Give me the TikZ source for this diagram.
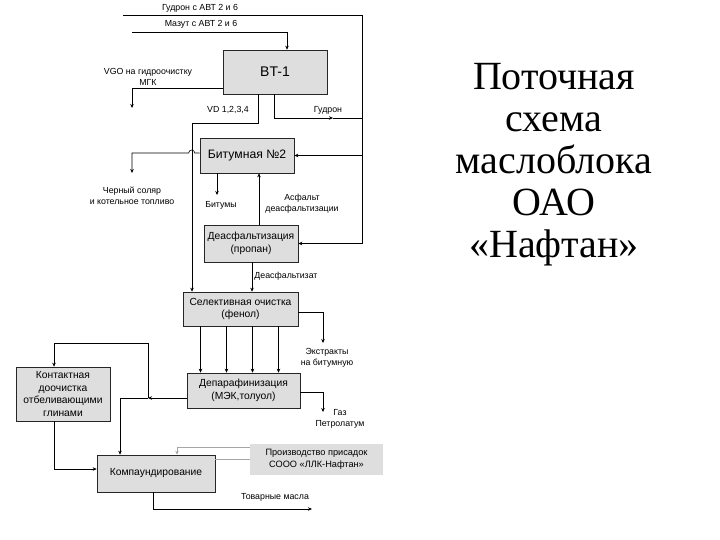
\documentclass[tikz,border=0pt]{standalone}
\usepackage{fontspec}
\setmainfont{Liberation Serif}
\newfontfamily\arialfont{Liberation Sans}
\usetikzlibrary{arrows.meta}

\tikzset{
  unit/.style={draw=black!85, fill=black!13, line width=0.6pt, inner sep=1pt,
    align=center, font=\arialfont\fontsize{10.3}{12.5}\selectfont},
  flow/.style={-{Stealth[length=4pt,width=3.5pt]}, line width=0.6pt},
  feed/.style={draw=black!35, line width=0.6pt},
  lbl/.style={inner sep=0pt, align=center, font=\arialfont\fontsize{8.8}{11}\selectfont}
}

\begin{document}
\begin{tikzpicture}[x=1pt,y=-1pt]
  \useasboundingbox (0,0) rectangle (720,540);

  % units
  \node[unit, minimum width=104pt, minimum height=44pt,
        font=\arialfont\fontsize{14}{16}\selectfont] (bt) at (275,72) {BT-1};
  \node[unit, minimum width=94pt, minimum height=35pt,
        font=\arialfont\fontsize{12.2}{14}\selectfont] (bit) at (247,155.5) {Битумная №2};
  \node[unit, minimum width=94pt, minimum height=37pt] (deas) at (251,243.5)
    {Деасфальтизация\\(пропан)};
  \node[unit, minimum width=115pt, minimum height=34pt] (sel) at (240.5,309)
    {Селективная очистка\\(фенол)};
  \node[unit, minimum width=113pt, minimum height=35pt] (dep) at (243.5,390.5)
    {Депарафинизация\\(МЭК,толуол)};
  \node[unit, minimum width=94pt, minimum height=54pt,
        font=\arialfont\fontsize{10.3}{12.4}\selectfont] (kont) at (63,394)
    {Контактная\\доочистка\\отбеливающими\\глинами};
  \node[unit, minimum width=118pt, minimum height=37pt] (komp) at (156,473.5)
    {Компаундирование};
  \node[unit, draw=none, minimum width=133pt, minimum height=31pt,
        font=\arialfont\fontsize{9.2}{11.8}\selectfont] (pris) at (316.5,459.5)
    {Производство присадок\\СООО «ЛЛК-Нафтан»};

  % free ends
  \coordinate (gud0) at (123,15);
  \coordinate (rt) at (362,15);
  \coordinate (maz0) at (132,32);
  \coordinate (vgoend) at (132,108);
  \coordinate (vd) at (192,123);
  \coordinate (gudarr) at (333,118);
  \coordinate (soend) at (132,173);
  \coordinate (bitend) at (217,195);
  \coordinate (extend) at (323,343);
  \coordinate (gasend) at (323,412);
  \coordinate (depj) at (148,398);
  \coordinate (kc) at (148,343);
  \coordinate (tovend) at (312,509);

  % labels
  \node[lbl] (lgud) at (200,8) {Гудрон с АВТ 2 и 6};
  \node[lbl] (lmaz) at (201,24) {Мазут с АВТ 2 и 6};
  \node[lbl] (lvgo) at (148,77) {VGO на гидроочистку\\МГК};
  \node[lbl] (lvd) at (228,110) {VD 1,2,3,4};
  \node[lbl] (lgudout) at (328,110) {Гудрон};
  \node[lbl] (lsol) at (132,196) {Черный соляр\\и котельное топливо};
  \node[lbl] (lbitum) at (221,205) {Битумы};
  \node[lbl] (lasf) at (302,203.5) {Асфальт\\деасфальтизации};
  \node[lbl] (ldeas) at (286,276) {Деасфальтизат};
  \node[lbl] (lext) at (327,358) {Экстракты\\на битумную};
  \node[lbl] (lgas) at (340,419) {Газ\\Петролатум};
  \node[lbl] (ltov) at (275,497) {Товарные масла};

  % title
  \node[inner sep=0pt, align=center, font=\fontsize{40}{42}\selectfont] (title)
    at (554,165) {Поточная\\схема\\маслоблока\\ОАО\\«Нафтан»};

  % connectors
  \draw[line width=0.6pt] (gud0) -- (rt) -- (rt |- deas.east);
  \draw[flow] (rt |- bit.east) -- (bit.east);
  \draw[flow] (rt |- deas.east) -- (deas.east);
  \draw[flow] (maz0) -| ([xshift=12pt]bt.north);
  \draw[flow] ([yshift=-16pt]bt.west) -| (vgoend);
  \draw[flow] ([xshift=-17pt]bt.south) |- (vd) -- (vd |- sel.north);
  \draw[flow] ([xshift=-1pt]bt.south) |- (gudarr);
  \draw[line width=0.6pt] (gudarr) -- (rt |- gudarr);
  \draw[flow] ([yshift=2.5pt]bit.west) -- ++(-5,0)
    arc[start angle=0, end angle=180, radius=3pt] -| (soend);
  \draw[flow] (bit.south -| bitend) -- (bitend);
  \draw[flow] ([xshift=8pt]deas.north) -- ([xshift=8pt]deas.north |- bit.south);
  \draw[flow] ([xshift=1pt]deas.south) -- ([xshift=1pt]deas.south |- sel.north);
  \draw[flow] ([yshift=-3pt]sel.east) -| (extend);
  \foreach \dx in {-40,-14,12,38}
    \draw[flow] ([xshift=\dx pt]sel.south) -- ([xshift=\dx pt]sel.south |- dep.north);
  \draw[flow] ([yshift=-1.5pt]dep.east) -| (gasend);
  \draw[flow] ([yshift=-7.5pt]dep.west) -- (depj);
  \draw[flow] (depj) -| ([xshift=-36pt]komp.north);
  \draw[flow] (depj) -- (kc) -| ([xshift=-9pt]kont.north);
  \draw[flow] ([xshift=-9pt]kont.south) |- ([yshift=4.5pt]komp.west);
  \draw[feed, -{Stealth[length=4pt,width=3.5pt]}] ([yshift=12.5pt]pris.west)
    -| ([xshift=21pt]komp.north);
  \draw[feed] (pris.west) -- (komp.east |- pris.west);
  \draw[flow] ([xshift=-3pt]komp.south) |- (tovend);
\end{tikzpicture}
\end{document}
